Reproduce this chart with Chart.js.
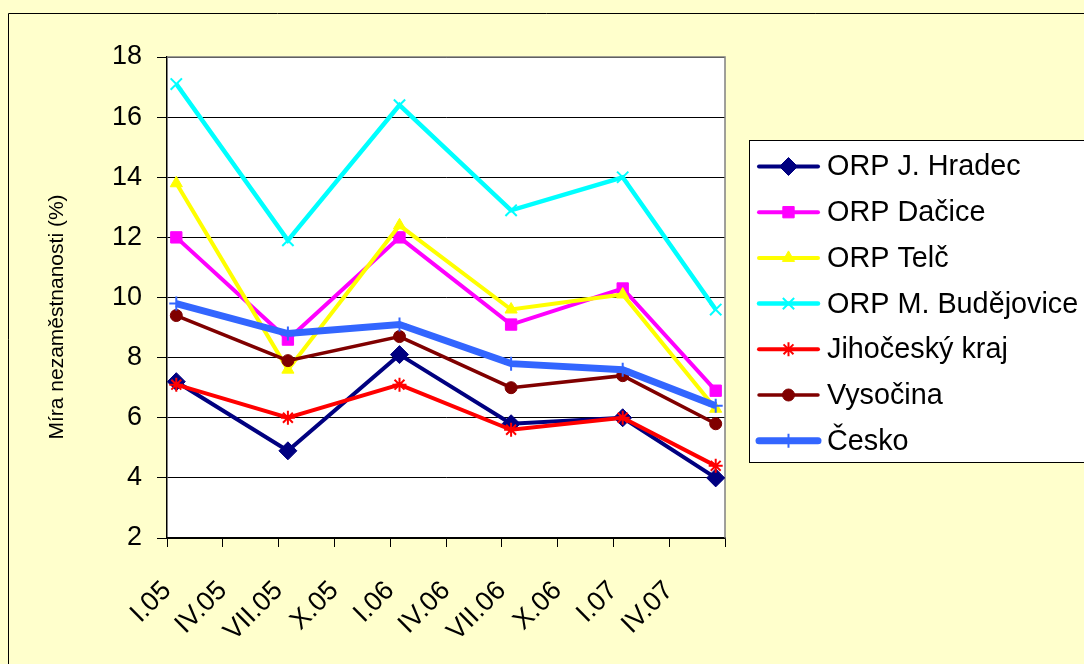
<!DOCTYPE html>
<html>
<head>
<meta charset="utf-8">
<script src="https://cdn.jsdelivr.net/npm/chart.js@4/dist/chart.umd.min.js"></script>
<style>
  html, body { margin: 0; padding: 0; background: #FFFFCC; }
  #wrap { width: 1084px; height: 664px; position: relative; }
</style>
</head>
<body>
<div id="wrap"><canvas id="c" width="1084" height="664"></canvas></div>
<script>
// ---- data ----
const tickLabels = ['I.05', 'IV.05', 'VII.05', 'X.05', 'I.06', 'IV.06', 'VII.06', 'X.06', 'I.07', 'IV.07'];
// month index (0 = January 2005) of each observation
const months = [0, 6, 12, 18, 24, 29];
const seriesNames = ['ORP J. Hradec', 'ORP Dačice', 'ORP Telč', 'ORP M. Budějovice', 'Jihočeský kraj', 'Vysočina', 'Česko'];
const jHradec     = [7.2, 4.9, 8.1, 5.8, 6.0, 4.0];
const dacice      = [12.0, 8.6, 12.0, 9.1, 10.3, 6.9];
const telc        = [13.8, 7.6, 12.4, 9.6, 10.1, 6.3];
const mBudejovice = [17.1, 11.9, 16.4, 12.9, 14.0, 9.6];
const jihocesky   = [7.1, 6.0, 7.1, 5.6, 6.0, 4.4];
const vysocina    = [9.4, 7.9, 8.7, 7.0, 7.4, 5.8];
const cesko       = [9.8, 8.8, 9.1, 7.8, 7.6, 6.4];
const yTitle = 'Míra nezaměstnanosti (%)';

const allValues = [jHradec, dacice, telc, mBudejovice, jihocesky, vysocina, cesko];
const styles = [
  { color: '#000080', pointStyle: 'rectRot',  radius: 9, lw: 4,   pbw: 1 },
  { color: '#FF00FF', pointStyle: 'rect',     radius: 8, lw: 4,   pbw: 1 },
  { color: '#FFFF00', pointStyle: 'triangle', radius: 7, lw: 4,   pbw: 1 },
  { color: '#00FFFF', pointStyle: 'crossRot', radius: 8, lw: 4.5, pbw: 2 },
  { color: '#FF0000', pointStyle: 'star',     radius: 7, lw: 4,   pbw: 2 },
  { color: '#800000', pointStyle: 'circle',   radius: 6, lw: 3.5, pbw: 1 },
  { color: '#3366FF', pointStyle: 'cross',    radius: 7, lw: 7,   pbw: 2 }
];

const datasets = seriesNames.map((name, i) => ({
  label: name,
  data: allValues[i].map((v, k) => ({ x: months[k] + 0.5, y: v })),
  borderColor: styles[i].color,
  backgroundColor: styles[i].color,
  borderWidth: styles[i].lw,
  pointStyle: styles[i].pointStyle,
  pointRadius: styles[i].radius,
  pointBorderWidth: styles[i].pbw,
  pointBorderColor: styles[i].color,
  pointBackgroundColor: styles[i].color,
  tension: 0,
  order: seriesNames.length - i
}));

const FONT = "'Liberation Sans', Arial, sans-serif";

const bgPlugin = {
  id: 'bg',
  beforeDraw(chart) {
    const ctx = chart.ctx;
    ctx.save();
    ctx.fillStyle = '#FFFFCC';
    ctx.fillRect(0, 0, chart.width, chart.height);
    ctx.strokeStyle = '#000';
    ctx.lineWidth = 1;
    ctx.beginPath();
    ctx.moveTo(8.5, 700); ctx.lineTo(8.5, 13.5); ctx.lineTo(1100, 13.5);
    ctx.stroke();
    const a = chart.chartArea;
    ctx.fillStyle = '#FFFFFF';
    ctx.fillRect(a.left, a.top, a.right - a.left, a.bottom - a.top);
    // y axis title
    ctx.translate(57, 317);
    ctx.rotate(-Math.PI / 2);
    ctx.fillStyle = '#000';
    ctx.font = '21px ' + FONT;
    ctx.textAlign = 'center';
    ctx.textBaseline = 'middle';
    ctx.fillText(yTitle, 0, 0);
    ctx.restore();
  },
  beforeDatasetsDraw(chart) {
    const ctx = chart.ctx, a = chart.chartArea;
    ctx.save();
    ctx.strokeStyle = '#808080';
    ctx.lineWidth = 1.5;
    ctx.beginPath();
    ctx.moveTo(a.left, a.top); ctx.lineTo(a.right, a.top); ctx.lineTo(a.right, a.bottom);
    ctx.stroke();
    ctx.restore();
  },
  afterDraw(chart) {
    const ctx = chart.ctx;
    ctx.save();
    const bx = 749.5, by = 140.5, bw = 360, bh = 322;
    ctx.fillStyle = '#FFFFFF';
    ctx.fillRect(bx, by, bw, bh);
    ctx.strokeStyle = '#000';
    ctx.lineWidth = 1;
    ctx.strokeRect(bx, by, bw, bh);
    ctx.font = '28.8px ' + FONT;
    ctx.textBaseline = 'middle';
    ctx.textAlign = 'left';
    const y0 = 166.5, dy = 45.7;
    chart.data.datasets.forEach((ds, i) => {
      const y = y0 + i * dy;
      ctx.strokeStyle = ds.borderColor;
      ctx.lineWidth = ds.borderWidth;
      ctx.lineCap = 'round';
      ctx.beginPath();
      ctx.moveTo(759, y); ctx.lineTo(818, y);
      ctx.stroke();
      ctx.lineCap = 'butt';
      ctx.fillStyle = ds.pointBackgroundColor;
      ctx.strokeStyle = ds.pointBorderColor;
      ctx.lineWidth = ds.pointBorderWidth;
      Chart.helpers.drawPoint(ctx, { pointStyle: ds.pointStyle, rotation: 0, radius: ds.pointRadius, borderWidth: ds.pointBorderWidth }, 788.5, y);
      ctx.fillStyle = '#000';
      ctx.fillText(ds.label, 827, y + 1);
    });
    ctx.restore();
  }
};

new Chart(document.getElementById('c'), {
  type: 'line',
  data: { datasets },
  plugins: [bgPlugin],
  options: {
    responsive: false,
    animation: false,
    events: [],
    layout: { padding: { left: 0, top: 57, right: 359, bottom: 0 } },
    plugins: { legend: { display: false }, tooltip: { enabled: false } },
    scales: {
      x: {
        type: 'linear',
        min: 0,
        max: 30,
        afterFit(scale) { scale.height = 126; },
        afterBuildTicks(scale) {
          scale.ticks = [];
          for (let v = 0; v <= 30; v += 3) scale.ticks.push({ value: v });
        },
        ticks: {
          autoSkip: false,
          maxRotation: 45,
          minRotation: 45,
          padding: 28,
          color: '#000',
          font: { family: FONT, size: 27 },
          callback: (v) => (tickLabels[v / 3] !== undefined ? tickLabels[v / 3] : '')
        },
        grid: { drawOnChartArea: false, drawTicks: true, tickLength: 9, color: '#000', lineWidth: 1 },
        border: { display: true, color: '#000', width: 1.5 }
      },
      y: {
        min: 2,
        max: 18,
        afterFit(scale) { scale.width = 167; },
        ticks: {
          stepSize: 2,
          padding: 15,
          color: '#000',
          font: { family: FONT, size: 27 }
        },
        grid: { color: '#000', lineWidth: 1, tickLength: 10, drawTicks: true },
        border: { display: true, color: '#000', width: 1.5 }
      }
    }
  }
});
</script>
</body>
</html>
